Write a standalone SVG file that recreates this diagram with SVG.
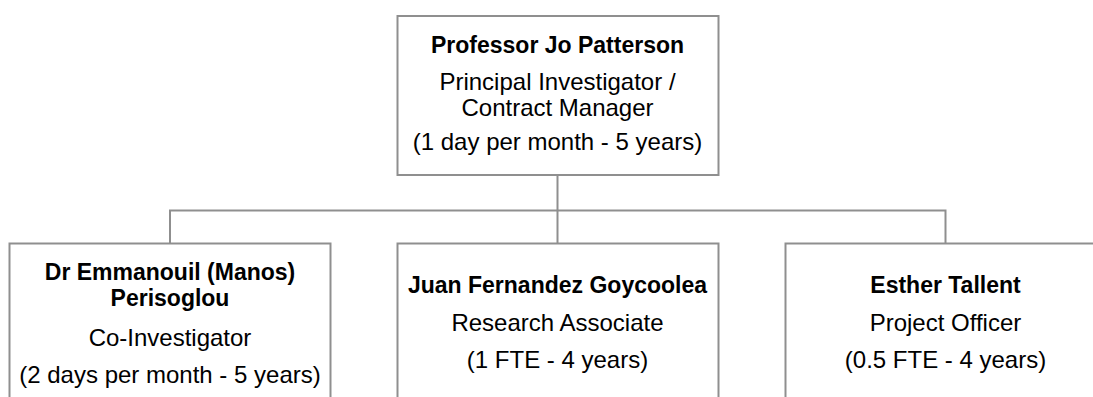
<svg xmlns="http://www.w3.org/2000/svg" width="1093" height="397" viewBox="0 0 1093 397">
<style>
.box{fill:#fff;stroke:#8f8f8f;stroke-width:2}
.con{fill:none;stroke:#8f8f8f;stroke-width:2}
.n{font-family:"Liberation Sans",Arial,sans-serif;font-weight:bold;font-size:23px;fill:#000;text-anchor:middle}
.t{font-family:"Liberation Sans",Arial,sans-serif;font-size:24px;fill:#000;text-anchor:middle}
</style>
<rect width="1093" height="397" fill="#fff"/>
<g id="connectors">
<path class="con" d="M557.5,175 V243 M170,243 V210.5 H945.5 V243"/>
</g>
<g id="patterson">
<rect class="box" x="397.5" y="16" width="321" height="159"/>
<text class="n" x="557.5" y="52.5">Professor Jo Patterson</text>
<text class="t" x="557.5" y="90">Principal Investigator /</text>
<text class="t" x="557.5" y="116">Contract Manager</text>
<text class="t" x="557.5" y="149.5">(1 day per month - 5 years)</text>
</g>
<g id="perisoglou">
<rect class="box" x="9.5" y="243.5" width="321" height="170"/>
<text class="n" x="170" y="280">Dr Emmanouil (Manos)</text>
<text class="n" x="170" y="306">Perisoglou</text>
<text class="t" x="170" y="346">Co-Investigator</text>
<text class="t" x="170" y="382.5">(2 days per month - 5 years)</text>
</g>
<g id="goycoolea">
<rect class="box" x="397.5" y="243.5" width="321" height="170"/>
<text class="n" x="557.5" y="293">Juan Fernandez Goycoolea</text>
<text class="t" x="557.5" y="331">Research Associate</text>
<text class="t" x="557.5" y="368.3">(1 FTE - 4 years)</text>
</g>
<g id="tallent">
<rect class="box" x="785.5" y="243.5" width="321" height="170"/>
<text class="n" x="945.5" y="293">Esther Tallent</text>
<text class="t" x="945.5" y="331">Project Officer</text>
<text class="t" x="945.5" y="368.3">(0.5 FTE - 4 years)</text>
</g>
</svg>
